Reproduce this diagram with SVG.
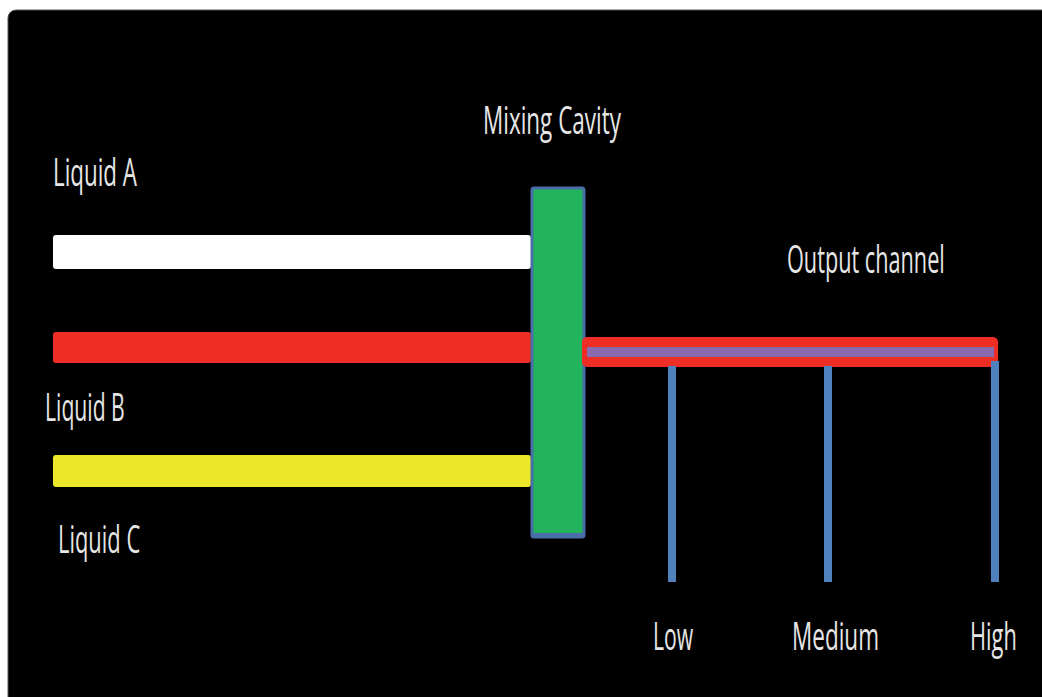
<svg xmlns="http://www.w3.org/2000/svg" width="1042" height="697" viewBox="0 0 1042 697">
  <style>
    .lbl { font-family: "Open Sans", "Liberation Sans", sans-serif; font-size: 38px; fill: #e6e6e6; }
    .probe { fill: #4f81bd; }
  </style>
  <rect x="0" y="0" width="1042" height="697" fill="#ffffff"/>
  <rect id="background" x="8" y="10" width="1044" height="700" rx="8" fill="#000000" stroke="#555" stroke-width="1"/>

  <g id="liquidA">
    <rect x="53" y="235" width="478" height="34" rx="3" fill="#ffffff"/>
    <text class="lbl" transform="translate(53,186) scale(0.6,1)" textLength="140" lengthAdjust="spacingAndGlyphs">Liquid A</text>
  </g>
  <g id="liquidB">
    <rect x="53" y="332" width="478" height="31" rx="3" fill="#ee2d24"/>
    <text class="lbl" transform="translate(45,421) scale(0.6,1)" textLength="133" lengthAdjust="spacingAndGlyphs">Liquid B</text>
  </g>
  <g id="liquidC">
    <rect x="53" y="455" width="478" height="32" rx="3" fill="#ebe82a"/>
    <text class="lbl" transform="translate(58,553) scale(0.6,1)" textLength="137" lengthAdjust="spacingAndGlyphs">Liquid C</text>
  </g>

  <g id="mixingCavity">
    <rect x="532" y="188" width="52" height="349" rx="2" fill="#22b35c" stroke="#4a6ea8" stroke-width="3"/>
    <rect x="532" y="533" width="52" height="4" fill="#4a6ea8"/>
    <text class="lbl" transform="translate(483,134) scale(0.6,1)" textLength="230" lengthAdjust="spacingAndGlyphs">Mixing Cavity</text>
  </g>

  <g id="outputChannel">
    <rect x="582" y="337" width="416" height="30" rx="5" fill="#ee2d24"/>
    <rect x="587" y="347" width="407" height="10" fill="#8a6bb0"/>
    <text class="lbl" transform="translate(787,273) scale(0.6,1)" textLength="263" lengthAdjust="spacingAndGlyphs">Output channel</text>
  </g>

  <g id="connectors">
    <rect class="probe" x="668" y="366" width="8" height="216"/>
    <rect class="probe" x="824" y="366" width="8" height="216"/>
    <rect class="probe" x="991" y="361" width="8" height="221"/>
  </g>

  <g id="lowLabel">
    <text class="lbl" transform="translate(653,650) scale(0.6,1)" textLength="67" lengthAdjust="spacingAndGlyphs">Low</text>
  </g>
  <g id="mediumLabel">
    <text class="lbl" transform="translate(792,650) scale(0.6,1)" textLength="145" lengthAdjust="spacingAndGlyphs">Medium</text>
  </g>
  <g id="highLabel">
    <text class="lbl" transform="translate(970,650) scale(0.6,1)" textLength="78" lengthAdjust="spacingAndGlyphs">High</text>
  </g>
</svg>
